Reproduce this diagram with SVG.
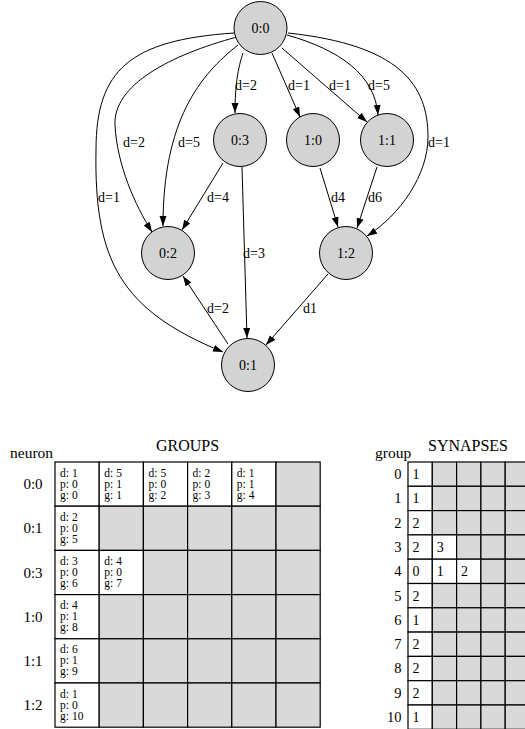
<svg xmlns="http://www.w3.org/2000/svg" width="525" height="729" viewBox="0 0 525 729">
<style>
  .node circle { fill: #d3d3d3; stroke: #000; stroke-width: 1; }
  .nl { font-family: "Liberation Serif", serif; font-size: 14px; text-anchor: middle; fill: #000; }
  .edge { fill: none; stroke: #000; stroke-width: 1; marker-end: url(#arr); }
  .el { font-family: "Liberation Serif", serif; font-size: 14px; fill: #000; }
  .title { font-family: "Liberation Serif", serif; font-size: 16px; text-anchor: middle; fill: #000; }
  .hdr { font-family: "Liberation Serif", serif; font-size: 15.5px; fill: #000; }
  .rl { font-family: "Liberation Serif", serif; font-size: 15px; text-anchor: middle; fill: #000; }
  .srl { font-family: "Liberation Serif", serif; font-size: 14.5px; text-anchor: end; fill: #000; }
  .ct { font-family: "Liberation Serif", serif; font-size: 11.5px; fill: #000; }
  .sn { font-family: "Liberation Serif", serif; font-size: 14px; fill: #000; }
  .w { fill: #fff; stroke: #000; stroke-width: 1.2; }
  .g { fill: #d9d9d9; stroke: #000; stroke-width: 1.2; }
</style>
<defs>
  <marker id="arr" markerUnits="userSpaceOnUse" markerWidth="10" markerHeight="8" refX="10" refY="3.5" orient="auto">
    <path d="M0,0 L10,3.5 L0,7 z" fill="#000"/>
  </marker>
</defs>
<rect x="0" y="0" width="525" height="729" fill="#fff"/>

<g id="connectors">
  <path class="edge" d="M243,53 C238,68 235,85 235,113"/>
  <path class="edge" d="M272,53 L300,117"/>
  <path class="edge" d="M282,48 L367,122"/>
  <path class="edge" d="M287,35 C340,50 375,75 378,115"/>
  <path class="edge" d="M288,33 C400,45 428,85 428,137 C428,175 400,215 367,236"/>
  <path class="edge" d="M237,37 C170,55 113,85 115,125 C117,165 135,205 152,232"/>
  <path class="edge" d="M238,45 C200,75 163,120 163,226"/>
  <path class="edge" d="M234,33 C130,40 96,70 96,150 C94,260 120,310 223,352"/>
  <path class="edge" d="M223,163 L182,230"/>
  <path class="edge" d="M242,167 L247,338"/>
  <path class="edge" d="M320,168 L338,227"/>
  <path class="edge" d="M377,167 L357,228"/>
  <path class="edge" d="M228,344 L183,276"/>
  <path class="edge" d="M328,274 L266,345"/>
  <text class="el" x="235" y="90">d=2</text>
  <text class="el" x="288" y="90">d=1</text>
  <text class="el" x="329" y="90">d=1</text>
  <text class="el" x="368" y="90">d=5</text>
  <text class="el" x="123" y="147">d=2</text>
  <text class="el" x="178" y="147">d=5</text>
  <text class="el" x="428" y="147">d=1</text>
  <text class="el" x="98" y="202">d=1</text>
  <text class="el" x="207" y="202">d=4</text>
  <text class="el" x="331" y="202">d4</text>
  <text class="el" x="368" y="202">d6</text>
  <text class="el" x="243" y="258">d=3</text>
  <text class="el" x="207" y="313">d=2</text>
  <text class="el" x="303" y="313">d1</text>
</g>

<g id="n00" class="node"><circle cx="260.5" cy="28" r="26.5"/><text class="nl" x="260.5" y="33">0:0</text></g>
<g id="n03" class="node"><circle cx="240" cy="140" r="26.5"/><text class="nl" x="240" y="145">0:3</text></g>
<g id="n10" class="node"><circle cx="313" cy="140" r="26.5"/><text class="nl" x="313" y="145">1:0</text></g>
<g id="n11" class="node"><circle cx="387" cy="140" r="26.5"/><text class="nl" x="387" y="145">1:1</text></g>
<g id="n02" class="node"><circle cx="168" cy="253" r="26.5"/><text class="nl" x="168" y="258">0:2</text></g>
<g id="n12" class="node"><circle cx="346" cy="253" r="26.5"/><text class="nl" x="346" y="258">1:2</text></g>
<g id="n01" class="node"><circle cx="248" cy="365" r="26.5"/><text class="nl" x="248" y="370">0:1</text></g>

<g id="groups-table">
  <text class="title" x="187.5" y="450.5">GROUPS</text>
  <text class="hdr" x="10" y="458">neuron</text>
  <!-- row 0:0 -->
  <rect class="w" x="55" y="462" width="44.2" height="44.2"/>
  <rect class="w" x="99.2" y="462" width="44.2" height="44.2"/>
  <rect class="w" x="143.4" y="462" width="44.2" height="44.2"/>
  <rect class="w" x="187.6" y="462" width="44.2" height="44.2"/>
  <rect class="w" x="231.8" y="462" width="44.2" height="44.2"/>
  <rect class="g" x="276" y="462" width="44.2" height="44.2"/>
  <!-- row 0:1 -->
  <rect class="w" x="55" y="506.2" width="44.2" height="44.2"/>
  <rect class="g" x="99.2" y="506.2" width="44.2" height="44.2"/>
  <rect class="g" x="143.4" y="506.2" width="44.2" height="44.2"/>
  <rect class="g" x="187.6" y="506.2" width="44.2" height="44.2"/>
  <rect class="g" x="231.8" y="506.2" width="44.2" height="44.2"/>
  <rect class="g" x="276" y="506.2" width="44.2" height="44.2"/>
  <!-- row 0:3 -->
  <rect class="w" x="55" y="550.4" width="44.2" height="44.2"/>
  <rect class="w" x="99.2" y="550.4" width="44.2" height="44.2"/>
  <rect class="g" x="143.4" y="550.4" width="44.2" height="44.2"/>
  <rect class="g" x="187.6" y="550.4" width="44.2" height="44.2"/>
  <rect class="g" x="231.8" y="550.4" width="44.2" height="44.2"/>
  <rect class="g" x="276" y="550.4" width="44.2" height="44.2"/>
  <!-- row 1:0 -->
  <rect class="w" x="55" y="594.6" width="44.2" height="44.2"/>
  <rect class="g" x="99.2" y="594.6" width="44.2" height="44.2"/>
  <rect class="g" x="143.4" y="594.6" width="44.2" height="44.2"/>
  <rect class="g" x="187.6" y="594.6" width="44.2" height="44.2"/>
  <rect class="g" x="231.8" y="594.6" width="44.2" height="44.2"/>
  <rect class="g" x="276" y="594.6" width="44.2" height="44.2"/>
  <!-- row 1:1 -->
  <rect class="w" x="55" y="638.8" width="44.2" height="44.2"/>
  <rect class="g" x="99.2" y="638.8" width="44.2" height="44.2"/>
  <rect class="g" x="143.4" y="638.8" width="44.2" height="44.2"/>
  <rect class="g" x="187.6" y="638.8" width="44.2" height="44.2"/>
  <rect class="g" x="231.8" y="638.8" width="44.2" height="44.2"/>
  <rect class="g" x="276" y="638.8" width="44.2" height="44.2"/>
  <!-- row 1:2 -->
  <rect class="w" x="55" y="683" width="44.2" height="44.2"/>
  <rect class="g" x="99.2" y="683" width="44.2" height="44.2"/>
  <rect class="g" x="143.4" y="683" width="44.2" height="44.2"/>
  <rect class="g" x="187.6" y="683" width="44.2" height="44.2"/>
  <rect class="g" x="231.8" y="683" width="44.2" height="44.2"/>
  <rect class="g" x="276" y="683" width="44.2" height="44.2"/>

  <text class="rl" x="33" y="489">0:0</text>
  <text class="rl" x="33" y="533">0:1</text>
  <text class="rl" x="33" y="577.5">0:3</text>
  <text class="rl" x="33" y="621.7">1:0</text>
  <text class="rl" x="33" y="666">1:1</text>
  <text class="rl" x="33" y="710">1:2</text>

  <!-- cell texts: d/p/g -->
  <g class="ct">
    <text x="60" y="476.5">d:</text><text x="72" y="476.5">1</text>
    <text x="60" y="487.5">p:</text><text x="72" y="487.5">0</text>
    <text x="60" y="498.5">g:</text><text x="72" y="498.5">0</text>

    <text x="104.2" y="476.5">d:</text><text x="116.2" y="476.5">5</text>
    <text x="104.2" y="487.5">p:</text><text x="116.2" y="487.5">1</text>
    <text x="104.2" y="498.5">g:</text><text x="116.2" y="498.5">1</text>

    <text x="148.4" y="476.5">d:</text><text x="160.4" y="476.5">5</text>
    <text x="148.4" y="487.5">p:</text><text x="160.4" y="487.5">0</text>
    <text x="148.4" y="498.5">g:</text><text x="160.4" y="498.5">2</text>

    <text x="192.6" y="476.5">d:</text><text x="204.6" y="476.5">2</text>
    <text x="192.6" y="487.5">p:</text><text x="204.6" y="487.5">0</text>
    <text x="192.6" y="498.5">g:</text><text x="204.6" y="498.5">3</text>

    <text x="236.8" y="476.5">d:</text><text x="248.8" y="476.5">1</text>
    <text x="236.8" y="487.5">p:</text><text x="248.8" y="487.5">1</text>
    <text x="236.8" y="498.5">g:</text><text x="248.8" y="498.5">4</text>

    <text x="60" y="520.7">d:</text><text x="72" y="520.7">2</text>
    <text x="60" y="531.7">p:</text><text x="72" y="531.7">0</text>
    <text x="60" y="542.7">g:</text><text x="72" y="542.7">5</text>

    <text x="60" y="564.9">d:</text><text x="72" y="564.9">3</text>
    <text x="60" y="575.9">p:</text><text x="72" y="575.9">0</text>
    <text x="60" y="586.9">g:</text><text x="72" y="586.9">6</text>

    <text x="104.2" y="564.9">d:</text><text x="116.2" y="564.9">4</text>
    <text x="104.2" y="575.9">p:</text><text x="116.2" y="575.9">0</text>
    <text x="104.2" y="586.9">g:</text><text x="116.2" y="586.9">7</text>

    <text x="60" y="609.1">d:</text><text x="72" y="609.1">4</text>
    <text x="60" y="620.1">p:</text><text x="72" y="620.1">1</text>
    <text x="60" y="631.1">g:</text><text x="72" y="631.1">8</text>

    <text x="60" y="653.3">d:</text><text x="72" y="653.3">6</text>
    <text x="60" y="664.3">p:</text><text x="72" y="664.3">1</text>
    <text x="60" y="675.3">g:</text><text x="72" y="675.3">9</text>

    <text x="60" y="697.5">d:</text><text x="72" y="697.5">1</text>
    <text x="60" y="708.5">p:</text><text x="72" y="708.5">0</text>
    <text x="60" y="719.5">g:</text><text x="72" y="719.5">10</text>
  </g>
</g>

<g id="synapses-table">
  <text class="title" x="468" y="450.5">SYNAPSES</text>
  <text class="hdr" x="375" y="458">group</text>
  <g>
    <rect class="w" x="408" y="462" width="24.3" height="24.3"/><rect class="g" x="432.3" y="462" width="24.3" height="24.3"/><rect class="g" x="456.6" y="462" width="24.3" height="24.3"/><rect class="g" x="480.9" y="462" width="24.3" height="24.3"/><rect class="g" x="505.2" y="462" width="24.3" height="24.3"/>
    <rect class="w" x="408" y="486.3" width="24.3" height="24.3"/><rect class="g" x="432.3" y="486.3" width="24.3" height="24.3"/><rect class="g" x="456.6" y="486.3" width="24.3" height="24.3"/><rect class="g" x="480.9" y="486.3" width="24.3" height="24.3"/><rect class="g" x="505.2" y="486.3" width="24.3" height="24.3"/>
    <rect class="w" x="408" y="510.6" width="24.3" height="24.3"/><rect class="g" x="432.3" y="510.6" width="24.3" height="24.3"/><rect class="g" x="456.6" y="510.6" width="24.3" height="24.3"/><rect class="g" x="480.9" y="510.6" width="24.3" height="24.3"/><rect class="g" x="505.2" y="510.6" width="24.3" height="24.3"/>
    <rect class="w" x="408" y="534.9" width="24.3" height="24.3"/><rect class="w" x="432.3" y="534.9" width="24.3" height="24.3"/><rect class="g" x="456.6" y="534.9" width="24.3" height="24.3"/><rect class="g" x="480.9" y="534.9" width="24.3" height="24.3"/><rect class="g" x="505.2" y="534.9" width="24.3" height="24.3"/>
    <rect class="w" x="408" y="559.2" width="24.3" height="24.3"/><rect class="w" x="432.3" y="559.2" width="24.3" height="24.3"/><rect class="w" x="456.6" y="559.2" width="24.3" height="24.3"/><rect class="g" x="480.9" y="559.2" width="24.3" height="24.3"/><rect class="g" x="505.2" y="559.2" width="24.3" height="24.3"/>
    <rect class="w" x="408" y="583.5" width="24.3" height="24.3"/><rect class="g" x="432.3" y="583.5" width="24.3" height="24.3"/><rect class="g" x="456.6" y="583.5" width="24.3" height="24.3"/><rect class="g" x="480.9" y="583.5" width="24.3" height="24.3"/><rect class="g" x="505.2" y="583.5" width="24.3" height="24.3"/>
    <rect class="w" x="408" y="607.8" width="24.3" height="24.3"/><rect class="g" x="432.3" y="607.8" width="24.3" height="24.3"/><rect class="g" x="456.6" y="607.8" width="24.3" height="24.3"/><rect class="g" x="480.9" y="607.8" width="24.3" height="24.3"/><rect class="g" x="505.2" y="607.8" width="24.3" height="24.3"/>
    <rect class="w" x="408" y="632.1" width="24.3" height="24.3"/><rect class="g" x="432.3" y="632.1" width="24.3" height="24.3"/><rect class="g" x="456.6" y="632.1" width="24.3" height="24.3"/><rect class="g" x="480.9" y="632.1" width="24.3" height="24.3"/><rect class="g" x="505.2" y="632.1" width="24.3" height="24.3"/>
    <rect class="w" x="408" y="656.4" width="24.3" height="24.3"/><rect class="g" x="432.3" y="656.4" width="24.3" height="24.3"/><rect class="g" x="456.6" y="656.4" width="24.3" height="24.3"/><rect class="g" x="480.9" y="656.4" width="24.3" height="24.3"/><rect class="g" x="505.2" y="656.4" width="24.3" height="24.3"/>
    <rect class="w" x="408" y="680.7" width="24.3" height="24.3"/><rect class="g" x="432.3" y="680.7" width="24.3" height="24.3"/><rect class="g" x="456.6" y="680.7" width="24.3" height="24.3"/><rect class="g" x="480.9" y="680.7" width="24.3" height="24.3"/><rect class="g" x="505.2" y="680.7" width="24.3" height="24.3"/>
    <rect class="w" x="408" y="705" width="24.3" height="24.3"/><rect class="g" x="432.3" y="705" width="24.3" height="24.3"/><rect class="g" x="456.6" y="705" width="24.3" height="24.3"/><rect class="g" x="480.9" y="705" width="24.3" height="24.3"/><rect class="g" x="505.2" y="705" width="24.3" height="24.3"/>
  </g>
  <g class="srl">
    <text x="401.5" y="479">0</text>
    <text x="401.5" y="503.3">1</text>
    <text x="401.5" y="527.6">2</text>
    <text x="401.5" y="551.9">3</text>
    <text x="401.5" y="576.2">4</text>
    <text x="401.5" y="600.5">5</text>
    <text x="401.5" y="624.8">6</text>
    <text x="401.5" y="649.1">7</text>
    <text x="401.5" y="673.4">8</text>
    <text x="401.5" y="697.7">9</text>
    <text x="401.5" y="722">10</text>
  </g>
  <g class="sn">
    <text x="412.5" y="479">1</text>
    <text x="412.5" y="503.3">1</text>
    <text x="412.5" y="527.6">2</text>
    <text x="412.5" y="551.9">2</text><text x="436.8" y="551.9">3</text>
    <text x="412.5" y="576.2">0</text><text x="436.8" y="576.2">1</text><text x="461.1" y="576.2">2</text>
    <text x="412.5" y="600.5">2</text>
    <text x="412.5" y="624.8">1</text>
    <text x="412.5" y="649.1">2</text>
    <text x="412.5" y="673.4">2</text>
    <text x="412.5" y="697.7">2</text>
    <text x="412.5" y="722">1</text>
  </g>
</g>
</svg>
